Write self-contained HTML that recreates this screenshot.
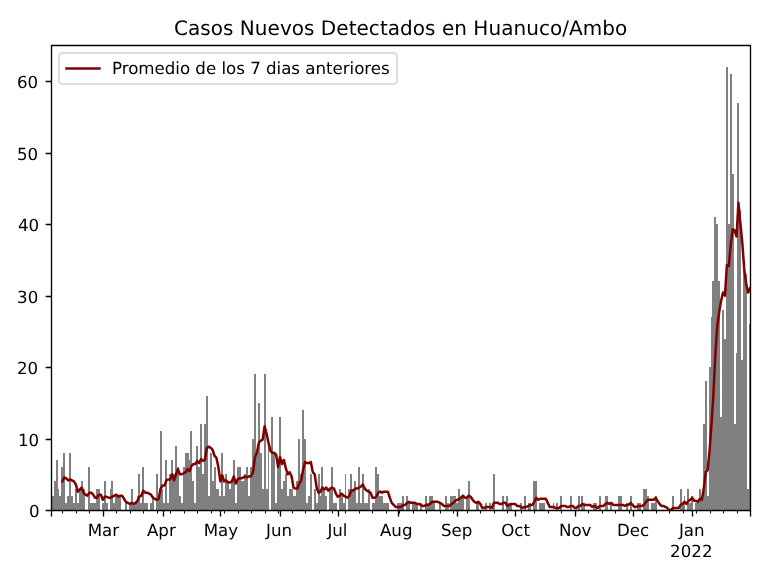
<!DOCTYPE html>
<html lang="es"><head><meta charset="utf-8"><title>Casos Nuevos Detectados en Huanuco/Ambo</title>
<style>html,body{margin:0;padding:0;background:#fff;}body{width:768px;height:576px;overflow:hidden;}svg{display:block;}text{font-family:"DejaVu Sans","Liberation Sans",sans-serif;fill:#000;text-rendering:geometricPrecision;}.t{font-size:16.667px;}.ti{font-size:20px;}</style></head><body>
<svg width="768" height="576" viewBox="0 0 768 576">
<rect x="0" y="0" width="768" height="576" fill="#ffffff"/>
<defs><clipPath id="ax"><rect x="50.820" y="44.860" width="699.180" height="465.140"/></clipPath></defs>
<g fill="#808080" shape-rendering="crispEdges">
<rect x="51" y="481" width="1" height="29"/>
<rect x="52" y="496" width="2" height="14"/>
<rect x="54" y="481" width="2" height="29"/>
<rect x="56" y="460" width="2" height="50"/>
<rect x="58" y="489" width="1" height="21"/>
<rect x="59" y="496" width="2" height="14"/>
<rect x="61" y="467" width="2" height="43"/>
<rect x="63" y="453" width="2" height="57"/>
<rect x="65" y="503" width="2" height="7"/>
<rect x="67" y="496" width="2" height="14"/>
<rect x="69" y="453" width="2" height="57"/>
<rect x="71" y="496" width="2" height="14"/>
<rect x="73" y="503" width="2" height="7"/>
<rect x="75" y="489" width="2" height="21"/>
<rect x="77" y="503" width="2" height="7"/>
<rect x="79" y="489" width="2" height="21"/>
<rect x="81" y="481" width="2" height="29"/>
<rect x="83" y="489" width="2" height="21"/>
<rect x="88" y="467" width="2" height="43"/>
<rect x="90" y="503" width="6" height="7"/>
<rect x="96" y="489" width="4" height="21"/>
<rect x="102" y="503" width="2" height="7"/>
<rect x="104" y="481" width="2" height="29"/>
<rect x="106" y="503" width="2" height="7"/>
<rect x="110" y="489" width="1" height="21"/>
<rect x="111" y="481" width="2" height="29"/>
<rect x="113" y="503" width="2" height="7"/>
<rect x="115" y="496" width="6" height="14"/>
<rect x="125" y="503" width="2" height="7"/>
<rect x="129" y="503" width="2" height="7"/>
<rect x="131" y="489" width="2" height="21"/>
<rect x="133" y="503" width="4" height="7"/>
<rect x="137" y="496" width="1" height="14"/>
<rect x="138" y="474" width="2" height="36"/>
<rect x="140" y="503" width="2" height="7"/>
<rect x="142" y="467" width="2" height="43"/>
<rect x="144" y="503" width="4" height="7"/>
<rect x="150" y="503" width="2" height="7"/>
<rect x="152" y="496" width="2" height="14"/>
<rect x="156" y="474" width="2" height="36"/>
<rect x="158" y="496" width="2" height="14"/>
<rect x="160" y="431" width="2" height="79"/>
<rect x="162" y="489" width="1" height="21"/>
<rect x="163" y="503" width="2" height="7"/>
<rect x="165" y="460" width="2" height="50"/>
<rect x="167" y="503" width="2" height="7"/>
<rect x="169" y="474" width="2" height="36"/>
<rect x="171" y="460" width="2" height="50"/>
<rect x="173" y="474" width="2" height="36"/>
<rect x="175" y="446" width="2" height="64"/>
<rect x="177" y="467" width="2" height="43"/>
<rect x="179" y="496" width="2" height="14"/>
<rect x="181" y="503" width="2" height="7"/>
<rect x="183" y="467" width="2" height="43"/>
<rect x="185" y="453" width="4" height="57"/>
<rect x="189" y="460" width="1" height="50"/>
<rect x="190" y="431" width="2" height="79"/>
<rect x="192" y="481" width="2" height="29"/>
<rect x="194" y="503" width="2" height="7"/>
<rect x="196" y="446" width="2" height="64"/>
<rect x="198" y="467" width="2" height="43"/>
<rect x="200" y="424" width="2" height="86"/>
<rect x="202" y="474" width="2" height="36"/>
<rect x="204" y="424" width="2" height="86"/>
<rect x="206" y="396" width="2" height="114"/>
<rect x="208" y="496" width="2" height="14"/>
<rect x="210" y="453" width="2" height="57"/>
<rect x="212" y="481" width="2" height="29"/>
<rect x="214" y="467" width="2" height="43"/>
<rect x="216" y="489" width="3" height="21"/>
<rect x="219" y="496" width="2" height="14"/>
<rect x="221" y="453" width="2" height="57"/>
<rect x="223" y="496" width="2" height="14"/>
<rect x="225" y="474" width="2" height="36"/>
<rect x="227" y="481" width="2" height="29"/>
<rect x="229" y="489" width="2" height="21"/>
<rect x="231" y="481" width="2" height="29"/>
<rect x="233" y="460" width="2" height="50"/>
<rect x="235" y="503" width="2" height="7"/>
<rect x="237" y="467" width="4" height="43"/>
<rect x="241" y="481" width="3" height="29"/>
<rect x="244" y="474" width="2" height="36"/>
<rect x="246" y="467" width="2" height="43"/>
<rect x="248" y="496" width="2" height="14"/>
<rect x="250" y="467" width="2" height="43"/>
<rect x="252" y="439" width="2" height="71"/>
<rect x="254" y="374" width="2" height="136"/>
<rect x="256" y="453" width="2" height="57"/>
<rect x="258" y="403" width="2" height="107"/>
<rect x="260" y="453" width="2" height="57"/>
<rect x="262" y="489" width="2" height="21"/>
<rect x="264" y="374" width="2" height="136"/>
<rect x="266" y="489" width="2" height="21"/>
<rect x="268" y="439" width="1" height="71"/>
<rect x="271" y="417" width="2" height="93"/>
<rect x="273" y="453" width="2" height="57"/>
<rect x="275" y="503" width="2" height="7"/>
<rect x="277" y="460" width="2" height="50"/>
<rect x="279" y="417" width="2" height="93"/>
<rect x="281" y="489" width="2" height="21"/>
<rect x="283" y="481" width="2" height="29"/>
<rect x="285" y="474" width="2" height="36"/>
<rect x="287" y="496" width="2" height="14"/>
<rect x="289" y="489" width="4" height="21"/>
<rect x="293" y="496" width="3" height="14"/>
<rect x="296" y="481" width="2" height="29"/>
<rect x="298" y="439" width="2" height="71"/>
<rect x="300" y="474" width="2" height="36"/>
<rect x="302" y="410" width="2" height="100"/>
<rect x="304" y="439" width="2" height="71"/>
<rect x="306" y="503" width="2" height="7"/>
<rect x="308" y="496" width="2" height="14"/>
<rect x="310" y="474" width="2" height="36"/>
<rect x="314" y="489" width="2" height="21"/>
<rect x="316" y="503" width="2" height="7"/>
<rect x="318" y="474" width="2" height="36"/>
<rect x="320" y="496" width="1" height="14"/>
<rect x="321" y="467" width="2" height="43"/>
<rect x="323" y="489" width="2" height="21"/>
<rect x="325" y="496" width="2" height="14"/>
<rect x="329" y="489" width="2" height="21"/>
<rect x="331" y="467" width="2" height="43"/>
<rect x="333" y="503" width="4" height="7"/>
<rect x="339" y="489" width="2" height="21"/>
<rect x="341" y="496" width="2" height="14"/>
<rect x="343" y="503" width="2" height="7"/>
<rect x="345" y="474" width="1" height="36"/>
<rect x="348" y="489" width="2" height="21"/>
<rect x="350" y="474" width="2" height="36"/>
<rect x="352" y="489" width="2" height="21"/>
<rect x="354" y="481" width="2" height="29"/>
<rect x="356" y="503" width="2" height="7"/>
<rect x="358" y="467" width="2" height="43"/>
<rect x="360" y="503" width="2" height="7"/>
<rect x="362" y="474" width="2" height="36"/>
<rect x="364" y="503" width="4" height="7"/>
<rect x="368" y="489" width="2" height="21"/>
<rect x="372" y="503" width="3" height="7"/>
<rect x="375" y="467" width="2" height="43"/>
<rect x="377" y="474" width="2" height="36"/>
<rect x="379" y="496" width="4" height="14"/>
<rect x="383" y="503" width="6" height="7"/>
<rect x="397" y="503" width="5" height="7"/>
<rect x="402" y="496" width="2" height="14"/>
<rect x="406" y="496" width="2" height="14"/>
<rect x="408" y="503" width="2" height="7"/>
<rect x="412" y="503" width="6" height="7"/>
<rect x="420" y="503" width="2" height="7"/>
<rect x="425" y="496" width="2" height="14"/>
<rect x="427" y="503" width="2" height="7"/>
<rect x="429" y="496" width="4" height="14"/>
<rect x="433" y="503" width="2" height="7"/>
<rect x="439" y="503" width="2" height="7"/>
<rect x="445" y="496" width="2" height="14"/>
<rect x="447" y="503" width="2" height="7"/>
<rect x="450" y="496" width="6" height="14"/>
<rect x="456" y="503" width="2" height="7"/>
<rect x="458" y="489" width="2" height="21"/>
<rect x="460" y="496" width="4" height="14"/>
<rect x="466" y="496" width="2" height="14"/>
<rect x="468" y="481" width="2" height="29"/>
<rect x="476" y="503" width="3" height="7"/>
<rect x="485" y="503" width="2" height="7"/>
<rect x="489" y="503" width="2" height="7"/>
<rect x="493" y="474" width="2" height="36"/>
<rect x="502" y="496" width="2" height="14"/>
<rect x="506" y="496" width="2" height="14"/>
<rect x="508" y="503" width="4" height="7"/>
<rect x="520" y="503" width="2" height="7"/>
<rect x="524" y="496" width="2" height="14"/>
<rect x="528" y="503" width="3" height="7"/>
<rect x="533" y="481" width="4" height="29"/>
<rect x="539" y="503" width="6" height="7"/>
<rect x="553" y="503" width="1" height="7"/>
<rect x="556" y="503" width="2" height="7"/>
<rect x="560" y="496" width="2" height="14"/>
<rect x="570" y="496" width="2" height="14"/>
<rect x="578" y="496" width="2" height="14"/>
<rect x="581" y="496" width="2" height="14"/>
<rect x="583" y="503" width="2" height="7"/>
<rect x="593" y="503" width="4" height="7"/>
<rect x="599" y="496" width="2" height="14"/>
<rect x="605" y="496" width="3" height="14"/>
<rect x="610" y="503" width="2" height="7"/>
<rect x="618" y="496" width="4" height="14"/>
<rect x="626" y="503" width="2" height="7"/>
<rect x="630" y="496" width="2" height="14"/>
<rect x="637" y="503" width="4" height="7"/>
<rect x="643" y="489" width="4" height="21"/>
<rect x="647" y="496" width="2" height="14"/>
<rect x="651" y="503" width="4" height="7"/>
<rect x="655" y="496" width="2" height="14"/>
<rect x="672" y="496" width="2" height="14"/>
<rect x="680" y="489" width="2" height="21"/>
<rect x="682" y="503" width="2" height="7"/>
<rect x="684" y="496" width="1" height="14"/>
<rect x="687" y="489" width="2" height="21"/>
<rect x="689" y="503" width="2" height="7"/>
<rect x="691" y="496" width="2" height="14"/>
<rect x="695" y="503" width="4" height="7"/>
<rect x="699" y="489" width="2" height="21"/>
<rect x="701" y="496" width="2" height="14"/>
<rect x="703" y="424" width="2" height="86"/>
<rect x="705" y="381" width="2" height="129"/>
<rect x="707" y="496" width="2" height="14"/>
<rect x="709" y="367" width="2" height="143"/>
<rect x="711" y="317" width="1" height="193"/>
<rect x="712" y="281" width="2" height="229"/>
<rect x="714" y="217" width="2" height="293"/>
<rect x="716" y="224" width="2" height="286"/>
<rect x="718" y="281" width="2" height="229"/>
<rect x="720" y="417" width="2" height="93"/>
<rect x="722" y="310" width="2" height="200"/>
<rect x="724" y="339" width="2" height="171"/>
<rect x="726" y="67" width="2" height="443"/>
<rect x="728" y="224" width="2" height="286"/>
<rect x="730" y="74" width="2" height="436"/>
<rect x="732" y="174" width="2" height="336"/>
<rect x="734" y="424" width="2" height="86"/>
<rect x="736" y="353" width="1" height="157"/>
<rect x="737" y="103" width="2" height="407"/>
<rect x="739" y="210" width="2" height="300"/>
<rect x="741" y="360" width="2" height="150"/>
<rect x="743" y="260" width="2" height="250"/>
<rect x="745" y="274" width="2" height="236"/>
<rect x="747" y="489" width="2" height="21"/>
<rect x="749" y="324" width="2" height="186"/>
</g>
<polyline clip-path="url(#ax)" fill="none" stroke="#800000" stroke-width="2.5" stroke-linejoin="round" stroke-linecap="square" points="62.38,481.42 64.30,477.34 66.23,478.36 68.16,480.40 70.08,479.38 72.01,480.40 73.93,481.42 75.86,484.48 77.79,491.63 79.71,489.59 81.64,487.54 83.56,492.65 85.49,494.69 87.42,495.71 89.34,492.65 91.27,492.65 93.19,494.69 95.12,497.75 97.05,497.75 98.97,494.69 100.90,494.69 102.83,499.79 104.75,496.73 106.68,496.73 108.60,497.75 110.53,497.75 112.46,496.73 114.38,495.71 116.31,494.69 118.23,496.73 120.16,495.71 122.09,495.71 124.01,498.77 125.94,501.83 127.86,502.85 129.79,503.88 131.72,502.85 133.64,503.88 135.57,502.85 137.50,500.81 139.42,496.73 141.35,495.71 143.27,490.61 145.20,492.65 147.13,492.65 149.05,493.67 150.98,494.69 152.90,497.75 154.83,498.77 156.76,499.79 158.68,498.77 160.61,488.56 162.53,485.50 164.46,485.50 166.39,480.40 168.31,479.38 170.24,479.38 172.17,474.27 174.09,480.40 176.02,474.27 177.94,469.17 179.87,474.27 181.80,474.27 183.72,473.25 185.65,472.23 187.57,469.17 189.50,471.21 191.43,466.11 193.35,464.07 195.28,464.07 197.20,461.01 199.13,463.05 201.06,458.96 202.98,461.01 204.91,459.98 206.84,447.74 208.76,446.72 210.69,447.74 212.61,449.78 214.54,455.90 216.47,457.94 218.39,467.13 220.32,481.42 222.24,475.30 224.17,481.42 226.10,480.40 228.02,482.44 229.95,482.44 231.87,481.42 233.80,476.32 235.73,483.46 237.65,479.38 239.58,478.36 241.51,478.36 243.43,477.34 245.36,476.32 247.28,477.34 249.21,476.32 251.14,476.32 253.06,472.23 254.99,456.92 256.91,452.84 258.84,442.63 260.77,440.59 262.69,439.57 264.62,426.30 266.54,433.45 268.47,442.63 270.40,450.80 272.32,452.84 274.25,452.84 276.18,454.88 278.10,467.13 280.03,456.92 281.95,464.07 283.88,459.98 285.81,468.15 287.73,474.27 289.66,472.23 291.58,476.32 293.51,487.54 295.44,488.56 297.36,488.56 299.29,483.46 301.21,480.40 303.14,469.17 305.07,462.03 306.99,463.05 308.92,463.05 310.85,462.03 312.77,472.23 314.70,474.27 316.62,487.54 318.55,492.65 320.48,491.63 322.40,487.54 324.33,489.59 326.25,487.54 328.18,490.61 330.11,488.56 332.03,487.54 333.96,488.56 335.88,493.67 337.81,496.73 339.74,495.71 341.66,493.67 343.59,495.71 345.52,496.73 347.44,497.75 349.37,495.71 351.29,490.61 353.22,490.61 355.15,488.56 357.07,488.56 359.00,487.54 360.92,486.52 362.85,484.48 364.78,488.56 366.70,490.61 368.63,491.63 370.55,492.65 372.48,497.75 374.41,497.75 376.33,496.73 378.26,492.65 380.19,491.63 382.11,492.65 384.04,491.63 385.96,491.63 387.89,491.63 389.82,497.75 391.74,502.85 393.67,504.90 395.59,506.94 397.52,506.94 399.45,506.94 401.37,506.94 403.30,504.90 405.22,504.90 407.15,502.85 409.08,501.83 411.00,502.85 412.93,502.85 414.86,502.85 416.78,503.88 418.71,503.88 420.63,504.90 422.56,505.92 424.49,505.92 426.41,504.90 428.34,504.90 430.26,503.88 432.19,501.83 434.12,501.83 436.04,501.83 437.97,501.83 439.89,502.85 441.82,503.88 443.75,505.92 445.67,505.92 447.60,505.92 449.53,505.92 451.45,503.88 453.38,502.85 455.30,500.81 457.23,499.79 459.16,498.77 461.08,497.75 463.01,495.71 464.93,497.75 466.86,497.75 468.79,495.71 470.71,496.73 472.64,499.79 474.56,501.83 476.49,502.85 478.42,501.83 480.34,503.88 482.27,507.96 484.20,507.96 486.12,506.94 488.05,506.94 489.97,506.94 491.90,507.96 493.83,502.85 495.75,502.85 497.68,502.85 499.60,503.88 501.53,503.88 503.46,502.85 505.38,502.85 507.31,505.92 509.23,504.90 511.16,503.88 513.09,503.88 515.01,503.88 516.94,505.92 518.87,505.92 520.79,506.94 522.72,507.96 524.64,506.94 526.57,506.94 528.50,505.92 530.42,504.90 532.35,504.90 534.27,501.83 536.20,497.75 538.13,499.79 540.05,498.77 541.98,498.77 543.90,498.77 545.83,498.77 547.76,502.85 549.68,506.94 551.61,506.94 553.54,506.94 555.46,507.96 557.39,507.96 559.31,507.96 561.24,505.92 563.17,505.92 565.09,505.92 567.02,506.94 568.94,506.94 570.87,505.92 572.80,505.92 574.72,507.96 576.65,507.96 578.57,505.92 580.50,505.92 582.43,503.88 584.35,504.90 586.28,504.90 588.20,504.90 590.13,504.90 592.06,506.94 593.98,505.92 595.91,506.94 597.84,507.96 599.76,505.92 601.69,505.92 603.61,505.92 605.54,503.88 607.47,502.85 609.39,503.88 611.32,502.85 613.24,504.90 615.17,504.90 617.10,504.90 619.02,504.90 620.95,504.90 622.87,504.90 624.80,505.92 626.73,504.90 628.65,504.90 630.58,502.85 632.51,504.90 634.43,506.94 636.36,506.94 638.28,505.92 640.21,505.92 642.14,505.92 644.06,504.90 645.99,501.83 647.91,499.79 649.84,499.79 651.77,499.79 653.69,499.79 655.62,497.75 657.54,500.81 659.47,503.88 661.40,505.92 663.32,505.92 665.25,506.94 667.18,507.96 669.10,510.00 671.03,510.00 672.95,507.96 674.88,507.96 676.81,507.96 678.73,507.96 680.66,504.90 682.58,503.88 684.51,501.83 686.44,503.88 688.36,500.81 690.29,499.79 692.21,497.75 694.14,500.81 696.07,500.81 697.99,501.83 699.92,498.77 701.85,499.79 703.77,488.56 705.70,472.23 707.62,470.19 709.55,450.80 711.48,424.26 713.40,394.66 715.33,354.85 717.25,326.27 719.18,311.98 721.11,300.75 723.03,292.59 724.96,295.65 726.88,265.03 728.81,266.05 730.74,244.61 732.66,229.30 734.59,230.32 736.52,236.45 738.44,202.76 740.37,223.18 742.29,242.57 744.22,269.11 746.15,283.40 748.07,292.59 750.00,288.50"/>
<g stroke="#000" stroke-width="1.333" fill="none" stroke-linecap="square">
<path d="M51.5 510.5V45.5H750.5V510.5Z"/>
</g>
<path d="M51.5 510.5V516.5M103.5 510.5V516.5M163.5 510.5V516.5M220.5 510.5V516.5M280.5 510.5V516.5M338.5 510.5V516.5M398.5 510.5V516.5M457.5 510.5V516.5M515.5 510.5V516.5M575.5 510.5V516.5M633.5 510.5V516.5M692.5 510.5V516.5M750.5 510.5V516.5M45.67 81.5H51.5M45.67 153.5H51.5M45.67 224.5H51.5M45.67 296.5H51.5M45.67 367.5H51.5M45.67 439.5H51.5M45.67 510.5H51.5" stroke="#000" stroke-width="1.333" fill="none"/>
<path d="M62.5 510.5V513.5M76.5 510.5V513.5M89.5 510.5V513.5M116.5 510.5V513.5M130.5 510.5V513.5M143.5 510.5V513.5M157.5 510.5V513.5M170.5 510.5V513.5M184.5 510.5V513.5M197.5 510.5V513.5M211.5 510.5V513.5M224.5 510.5V513.5M238.5 510.5V513.5M251.5 510.5V513.5M265.5 510.5V513.5M278.5 510.5V513.5M292.5 510.5V513.5M305.5 510.5V513.5M319.5 510.5V513.5M332.5 510.5V513.5M345.5 510.5V513.5M359.5 510.5V513.5M372.5 510.5V513.5M386.5 510.5V513.5M399.5 510.5V513.5M413.5 510.5V513.5M426.5 510.5V513.5M440.5 510.5V513.5M453.5 510.5V513.5M467.5 510.5V513.5M480.5 510.5V513.5M494.5 510.5V513.5M507.5 510.5V513.5M521.5 510.5V513.5M534.5 510.5V513.5M548.5 510.5V513.5M561.5 510.5V513.5M588.5 510.5V513.5M602.5 510.5V513.5M615.5 510.5V513.5M629.5 510.5V513.5M642.5 510.5V513.5M656.5 510.5V513.5M669.5 510.5V513.5M683.5 510.5V513.5M696.5 510.5V513.5M710.5 510.5V513.5M723.5 510.5V513.5M737.5 510.5V513.5" stroke="#000" stroke-width="1" fill="none"/>
<text class="t" x="103.39" y="536.00" text-anchor="middle">Mar</text>
<text class="t" x="161.34" y="536.00" text-anchor="middle">Apr</text>
<text class="t" x="220.93" y="536.00" text-anchor="middle">May</text>
<text class="t" x="279.14" y="536.00" text-anchor="middle">Jun</text>
<text class="t" x="337.44" y="536.00" text-anchor="middle">Jul</text>
<text class="t" x="396.21" y="536.00" text-anchor="middle">Aug</text>
<text class="t" x="456.60" y="536.00" text-anchor="middle">Sep</text>
<text class="t" x="515.55" y="536.00" text-anchor="middle">Oct</text>
<text class="t" x="575.20" y="536.00" text-anchor="middle">Nov</text>
<text class="t" x="633.01" y="536.00" text-anchor="middle">Dec</text>
<text class="t" x="678.90" y="536.00">Jan</text>
<text class="t" x="670.11" y="557.00">2022</text>
<text class="t" x="39.65" y="517.00" text-anchor="end">0</text>
<text class="t" x="39.11" y="446.00" text-anchor="end">10</text>
<text class="t" x="38.22" y="374.00" text-anchor="end">20</text>
<text class="t" x="38.25" y="303.00" text-anchor="end">30</text>
<text class="t" x="39.21" y="231.00" text-anchor="end">40</text>
<text class="t" x="38.23" y="160.00" text-anchor="end">50</text>
<text class="t" x="38.15" y="88.00" text-anchor="end">60</text>
<text class="ti" x="173.95" y="35.00" textLength="453.25" lengthAdjust="spacing">Casos Nuevos Detectados en Huanuco/Ambo</text>
<rect x="59" y="53" width="338" height="31" rx="3.33" ry="3.33" fill="#ffffff" stroke="#dddddd" stroke-width="2"/>
<path d="M66.49 68.5H99.51" stroke="#800000" stroke-width="2.5" stroke-linecap="square" fill="none"/>
<text class="t" x="111.96" y="74.00" textLength="277.75" lengthAdjust="spacing">Promedio de los 7 dias anteriores</text>
</svg></body></html>
